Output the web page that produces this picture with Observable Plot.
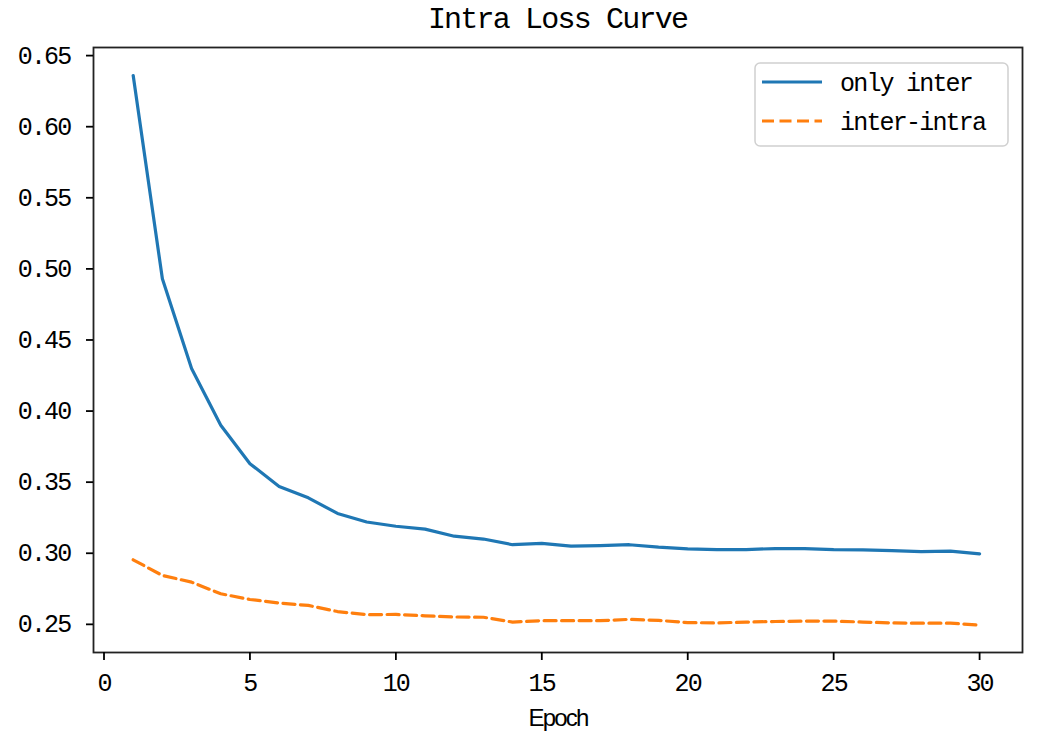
<!DOCTYPE html>
<html>
<head>
<meta charset="utf-8">
<script src="https://cdn.jsdelivr.net/npm/d3@7"></script>
<script src="https://cdn.jsdelivr.net/npm/@observablehq/plot@0.6"></script>
<style>
  body { margin: 0; background: #fff; }
  #wrap { position: relative; width: 1050px; height: 746px; overflow: hidden; font-family: "Liberation Mono", "DejaVu Sans Mono", monospace; color: #000; }
  #title { position: absolute; left: 93px; width: 929px; top: 5px; text-align: center; font-size: 30px; line-height: 30px; letter-spacing: -1.8px; }
  #chart { position: absolute; left: 0; top: 40px; }
  #legend { position: absolute; left: 754px; top: 62px; }
</style>
</head>
<body>
<div id="wrap">
  <div id="title">Intra Loss Curve</div>
  <div id="chart"></div>
  <svg id="legend" width="256" height="86"></svg>
</div>
<script>
const epochs = [1,2,3,4,5,6,7,8,9,10,11,12,13,14,15,16,17,18,19,20,21,22,23,24,25,26,27,28,29,30];
const onlyInter = [0.636,0.493,0.430,0.390,0.363,0.347,0.339,0.328,0.322,0.319,0.317,0.312,0.310,0.306,0.307,0.305,0.3054,0.306,0.3043,0.3031,0.3026,0.3026,0.3033,0.3033,0.3026,0.3024,0.3019,0.3012,0.3015,0.2996];
const interIntra = [0.2954,0.2844,0.2797,0.2715,0.2675,0.265,0.2633,0.259,0.2568,0.257,0.256,0.2552,0.255,0.2516,0.2526,0.2526,0.2526,0.2535,0.2528,0.2512,0.251,0.2516,0.252,0.2523,0.2523,0.2516,0.251,0.2508,0.2508,0.2495];
const seriesNames = ["only inter", "inter-intra"];
const seriesColors = ["#1f77b4", "#ff7f0e"];
const xTicks = [0,5,10,15,20,25,30];
const yTicks = [0.25,0.30,0.35,0.40,0.45,0.50,0.55,0.60,0.65];
const xLabel = "Epoch";

const rowsA = epochs.map((e, i) => ({epoch: e, loss: onlyInter[i]}));
const rowsB = epochs.map((e, i) => ({epoch: e, loss: interIntra[i]}));

const chart = Plot.plot({
  width: 1050,
  height: 706,
  marginTop: 7,
  marginLeft: 93,
  marginRight: 28,
  marginBottom: 94,
  style: {fontFamily: "Liberation Mono, DejaVu Sans Mono, monospace", fontSize: "25px", letterSpacing: "-1.8px", color: "#000", background: "#fff", overflow: "visible"},
  x: {domain: [-0.36, 31.47]},
  y: {domain: [0.2302, 0.6557]},
  marks: [
    Plot.line(rowsA, {x: "epoch", y: "loss", stroke: seriesColors[0], strokeWidth: 3.2, strokeLinejoin: "round"}),
    Plot.line(rowsB, {x: "epoch", y: "loss", stroke: seriesColors[1], strokeWidth: 3.2, strokeDasharray: "12,5.5"}),
    Plot.frame({stroke: "#222", strokeWidth: 1.8}),
    Plot.axisX(xTicks, {tickSize: 8, tickPadding: 13, strokeWidth: 1.8, label: null, tickFormat: d => String(d)}),
    Plot.axisY(yTicks, {tickSize: 7, tickPadding: 16, strokeWidth: 1.8, label: null, tickFormat: d => d.toFixed(2)}),
    Plot.text([xLabel], {text: d => d, frameAnchor: "bottom", dy: 56, lineAnchor: "top", fill: "#000", fontFamily: "Liberation Sans, Arial, sans-serif", fontSize: 24})
  ]
});
document.getElementById("chart").appendChild(chart);

// Legend
const lg = d3.select("#legend");
lg.append("rect").attr("x", 1).attr("y", 1).attr("width", 253).attr("height", 83)
  .attr("rx", 5).attr("fill", "rgba(255,255,255,0.8)").attr("stroke", "#d0d0d0").attr("stroke-width", 1.5);
seriesNames.forEach((name, i) => {
  const y = 20 + i * 39;
  lg.append("line").attr("x1", 8).attr("x2", 68).attr("y1", y).attr("y2", y)
    .attr("stroke", seriesColors[i]).attr("stroke-width", 3.2)
    .attr("stroke-dasharray", i === 1 ? "12,5.5" : null);
  lg.append("text").attr("x", 86).attr("y", y).attr("dy", "0.35em")
    .attr("font-family", "Liberation Mono, DejaVu Sans Mono, monospace")
    .attr("font-size", 25).attr("letter-spacing", "-1.8px").attr("fill", "#000")
    .text(name);
});
</script>
</body>
</html>
